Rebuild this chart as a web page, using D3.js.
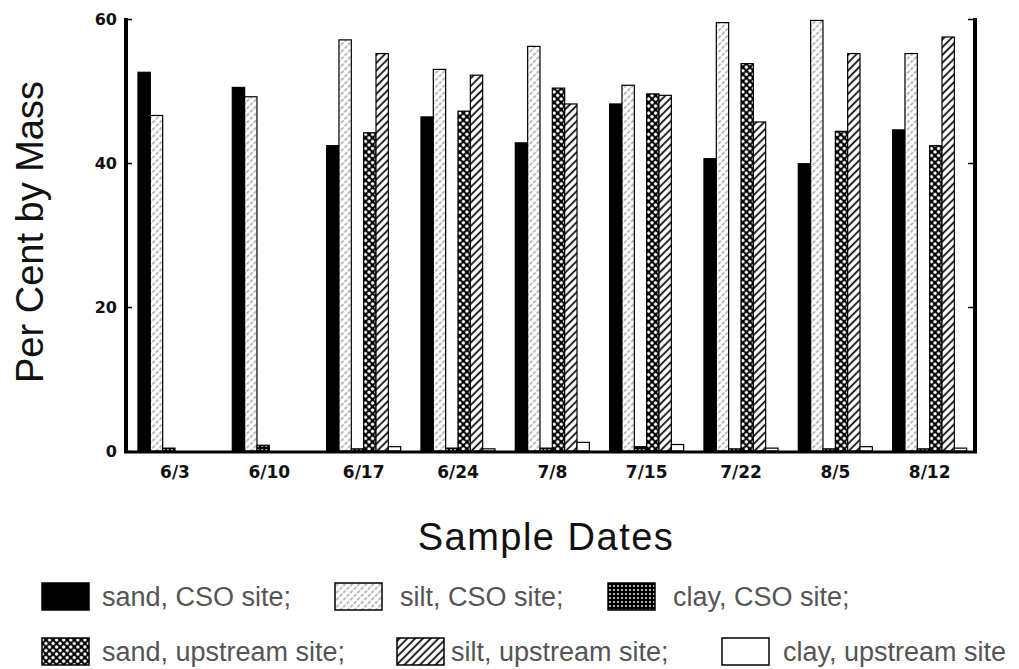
<!DOCTYPE html>
<html>
<head>
<meta charset="utf-8">
<script src="https://cdn.jsdelivr.net/npm/d3@7"></script>
<style>
body { margin: 0; background: #fff; }
</style>
</head>
<body>
<svg id="chart" width="1019" height="669"></svg>
<script>
// data
var dates = ["6/3", "6/10", "6/17", "6/24", "7/8", "7/15", "7/22", "8/5", "8/12"];
var seriesNames = ["sand, CSO site;", "silt, CSO site;", "clay, CSO site;",
                   "sand, upstream site;", "silt, upstream site;", "clay, upstream site"];
var sandCSO = [52.6, 50.5, 42.4, 46.4, 42.8, 48.2, 40.6, 39.9, 44.6];
var siltCSO = [46.6, 49.2, 57.1, 53.0, 56.2, 50.8, 59.5, 59.8, 55.2];
var clayCSO = [0.4, 0.8, 0.3, 0.4, 0.4, 0.6, 0.3, 0.3, 0.3];
var sandUp  = [0, 0, 44.2, 47.2, 50.4, 49.6, 53.8, 44.4, 42.4];
var siltUp  = [0, 0, 55.2, 52.2, 48.2, 49.4, 45.7, 55.2, 57.5];
var clayUp  = [0, 0, 0.6, 0.3, 1.2, 0.9, 0.4, 0.6, 0.4];
var yTicks = [0, 20, 40, 60];

var series = [sandCSO, siltCSO, clayCSO, sandUp, siltUp, clayUp];
var fills = ["#000", "url(#pSiltCSO)", "url(#pClayCSO)", "url(#pSandUp)", "url(#pSiltUp)", "#fff"];

var svg = d3.select("#chart");
var plotLeft = 126, plotRight = 975, plotTop = 19, base = 451;

// patterns
var defs = svg.append("defs");
var p1 = defs.append("pattern").attr("id", "pSiltCSO").attr("patternUnits", "userSpaceOnUse")
  .attr("width", 5).attr("height", 5).attr("patternTransform", "rotate(45)");
p1.append("rect").attr("width", 5).attr("height", 5).attr("fill", "#fff");
p1.append("line").attr("x1", 2).attr("y1", 0).attr("x2", 2).attr("y2", 5)
  .attr("stroke", "#555").attr("stroke-width", 0.9).attr("stroke-dasharray", "1.6,1.6");

var p2 = defs.append("pattern").attr("id", "pClayCSO").attr("patternUnits", "userSpaceOnUse")
  .attr("width", 4).attr("height", 4);
p2.append("rect").attr("width", 4).attr("height", 4).attr("fill", "#000");
p2.append("circle").attr("cx", 2).attr("cy", 2).attr("r", 0.9).attr("fill", "#fff");

var p3 = defs.append("pattern").attr("id", "pSandUp").attr("patternUnits", "userSpaceOnUse")
  .attr("width", 5).attr("height", 5).attr("patternTransform", "rotate(45)");
p3.append("rect").attr("width", 5).attr("height", 5).attr("fill", "#000");
p3.append("circle").attr("cx", 2.5).attr("cy", 2.5).attr("r", 1.7).attr("fill", "#fff");

var p4 = defs.append("pattern").attr("id", "pSiltUp").attr("patternUnits", "userSpaceOnUse")
  .attr("width", 5.5).attr("height", 5.5).attr("patternTransform", "rotate(45)");
p4.append("rect").attr("width", 5.5).attr("height", 5.5).attr("fill", "#fff");
p4.append("line").attr("x1", 2.5).attr("y1", 0).attr("x2", 2.5).attr("y2", 5.5)
  .attr("stroke", "#000").attr("stroke-width", 1.7);

// scales
var x0 = d3.scaleBand().domain(dates).range([plotLeft, plotRight])
  .paddingInner(0.215).paddingOuter(0.1075).align(0.59);
var x1 = d3.scaleBand().domain(d3.range(6)).range([0, x0.bandwidth()]);
var y = d3.scaleLinear().domain([0, 60]).range([base, plotTop]);

// bars
var groups = svg.append("g").selectAll("g").data(dates).join("g")
  .attr("transform", d => "translate(" + x0(d) + ",0)");
groups.selectAll("rect")
  .data((d, i) => series.map((s, k) => ({k: k, v: s[i]})).filter(e => e.v > 0))
  .join("rect")
  .attr("x", d => x1(d.k))
  .attr("width", x1.bandwidth())
  .attr("y", d => y(d.v))
  .attr("height", d => base - y(d.v))
  .attr("fill", d => fills[d.k])
  .attr("stroke", "#000")
  .attr("stroke-width", 1.2);

// axes
var yAxis = svg.append("g").attr("transform", "translate(" + plotLeft + ",0)")
  .call(d3.axisLeft(y).tickValues(yTicks).tickSizeInner(-6).tickSizeOuter(0).tickPadding(9));
yAxis.select(".domain").remove();
yAxis.selectAll("text").style("font-family", "DejaVu Sans").style("font-weight", "bold")
  .style("font-size", "16px").attr("fill", "#111");
yAxis.selectAll("line").attr("stroke-width", 1.5);

var yAxisR = svg.append("g").attr("transform", "translate(" + plotRight + ",0)")
  .call(d3.axisRight(y).tickValues(yTicks.slice(1)).tickSizeInner(-7).tickSizeOuter(0).tickFormat(""));
yAxisR.select(".domain").remove();
yAxisR.selectAll("line").attr("stroke-width", 1.5);

var xAxis = svg.append("g").attr("transform", "translate(0," + base + ")")
  .call(d3.axisBottom(x0).tickSize(0).tickPadding(15));
xAxis.select(".domain").remove();
xAxis.selectAll("text").style("font-family", "DejaVu Sans").style("font-weight", "bold")
  .style("font-size", "17px").attr("fill", "#111");

svg.append("line").attr("x1", plotLeft).attr("x2", plotLeft).attr("y1", plotTop - 1).attr("y2", base + 2)
  .attr("stroke", "#000").attr("stroke-width", 4);
svg.append("line").attr("x1", plotRight).attr("x2", plotRight).attr("y1", plotTop - 1).attr("y2", base + 2)
  .attr("stroke", "#000").attr("stroke-width", 4);
svg.append("line").attr("x1", plotLeft - 2).attr("x2", plotRight + 2).attr("y1", base + 1).attr("y2", base + 1)
  .attr("stroke", "#000").attr("stroke-width", 3);

// axis titles
svg.append("text")
  .attr("transform", "translate(43,232) rotate(-90)")
  .attr("text-anchor", "middle")
  .style("font-family", "Liberation Sans, Arial, sans-serif")
  .style("font-size", "38px")
  .attr("fill", "#111")
  .text("Per Cent by Mass");

svg.append("text")
  .attr("x", 546).attr("y", 550)
  .attr("text-anchor", "middle")
  .style("font-family", "Liberation Sans, Arial, sans-serif")
  .style("font-size", "38px")
  .style("letter-spacing", "1.5px")
  .attr("fill", "#111")
  .text("Sample Dates");

// legend
var legPos = [[42, 596], [335, 596], [608, 596], [42, 651], [397, 651], [722, 651]];
var legText = [102, 400, 673, 102, 451, 783];
var leg = svg.append("g").selectAll("g").data(seriesNames).join("g");
leg.append("rect")
  .attr("x", (d, i) => legPos[i][0])
  .attr("y", (d, i) => legPos[i][1] - 13)
  .attr("width", 47).attr("height", 27)
  .attr("fill", (d, i) => fills[i])
  .attr("stroke", "#000").attr("stroke-width", 1.5);
leg.append("text")
  .attr("x", (d, i) => legText[i])
  .attr("y", (d, i) => legPos[i][1] + 10)
  .style("font-family", "Liberation Sans, Arial, sans-serif")
  .style("font-size", "27px")
  .attr("fill", "#555")
  .text(d => d);
</script>
</body>
</html>
